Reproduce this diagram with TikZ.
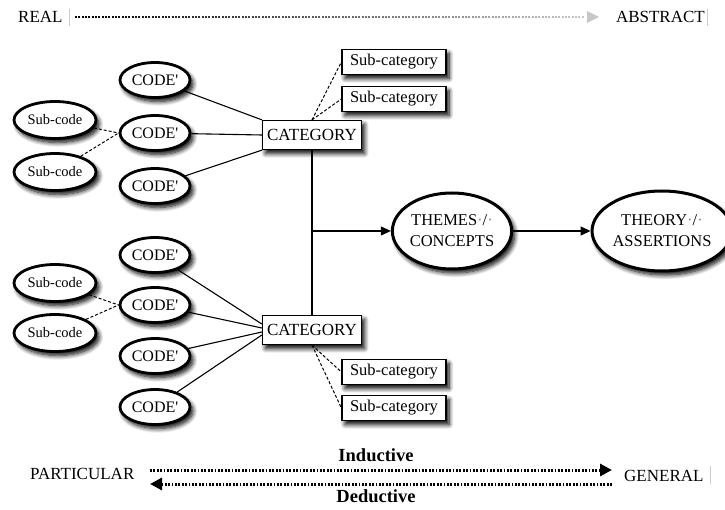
\documentclass[tikz,border=0pt]{standalone}
\usepackage{fontspec}
\setmainfont{Liberation Serif}
\usetikzlibrary{shapes.geometric,shadows,shadows.blur,arrows.meta,calc}

\newcommand{\fs}[2]{\fontsize{#1}{#2}\selectfont}
\newcommand{\fmark}{\textcolor{black!45}{·}}
\newcommand{\codetext}{CODE\textquotesingle}

\tikzset{
  softshadow/.style={blur shadow={shadow blur steps=8,shadow blur radius=4.5pt,shadow xshift=3pt,shadow yshift=-4pt,shadow opacity=100}},
  codebox/.style={ellipse,draw,line width=2.8pt,fill=white,minimum width=70pt,minimum height=35pt,inner sep=0pt,softshadow,font=\fs{16}{19}},
  subcodebox/.style={ellipse,draw,line width=2.8pt,fill=white,minimum width=82pt,minimum height=37pt,inner sep=0pt,softshadow,font=\fs{14.5}{17}},
  catbox/.style={rectangle,draw,line width=1.3pt,fill=white,minimum width=99pt,minimum height=29pt,inner sep=0pt,softshadow,font=\fs{17}{20}},
  subcatbox/.style={rectangle,draw,line width=1.3pt,fill=white,minimum width=104pt,minimum height=25pt,inner sep=0pt,softshadow,font=\fs{16.5}{19}},
  bigoval/.style={ellipse,draw,line width=3pt,fill=white,inner sep=0pt,softshadow,font=\fs{16.5}{21},align=center},
  solidlink/.style={line width=1.1pt},
  dashlink/.style={line width=1pt,dash pattern=on 3pt off 2pt},
  dotarrow/.style={line width=3pt,dash pattern=on 1.8pt off 1.6pt,-{Triangle[length=12pt,width=12pt]}},
  flowarrow/.style={line width=1.1pt,-{Triangle[length=10pt,width=9pt]}},
  plain/.style={inner sep=0pt,font=\fs{17}{20}},
  cursor/.style={line width=0.8pt,black!20}
}

\begin{document}
\begin{tikzpicture}[x=1pt,y=-1pt]
\useasboundingbox (0,0) rectangle (725,510);

% --- REAL to ABSTRACT scale ---
\node[plain,anchor=west] (real) at (18,17) {REAL};
\node[plain,anchor=east] (abstract) at (705,17) {ABSTRACT};
\draw[cursor] (69,9) -- (69,26);
\draw[cursor] (707,9) -- (707,26);
\foreach \i in {0,...,50}{
  \pgfmathsetmacro{\shade}{100-\i*1.55}
  \draw[black!\shade,line width=2.8pt,dash pattern=on 1.8pt off 1.6pt]
    (75+\i*10,17) -- (85+\i*10,17);
}
\fill[black!22] (587,11) -- (599,17) -- (587,23) -- cycle;

% --- upper branch ---
\node[catbox] (cat1) at (312,135) {CATEGORY};
\node[subcatbox] (sub1) at (394,62) {Sub-category};
\node[subcatbox] (sub2) at (394,99) {Sub-category};
\node[codebox] (c1) at (155,80) {\codetext};
\node[codebox] (c2) at (155,133) {\codetext};
\node[codebox] (c3) at (155,186) {\codetext};
\node[subcodebox] (sc1) at (55,120) {Sub-code};
\node[subcodebox] (sc2) at (55,172) {Sub-code};

\draw[solidlink] (c1) -- (cat1.north west);
\draw[solidlink] (c2) -- (cat1.west);
\draw[solidlink] (c3) -- (cat1.south west);
\draw[dashlink] (sc1) -- (c2.west);
\draw[dashlink] (sc2) -- (c2.west);
\draw[dashlink] (cat1.north) -- (sub1.west);
\draw[dashlink] (cat1.north) -- (sub2.west);

% --- lower branch ---
\node[catbox] (cat2) at (312,330) {CATEGORY};
\node[subcatbox] (sub3) at (394,372) {Sub-category};
\node[subcatbox] (sub4) at (394,408) {Sub-category};
\node[codebox] (c4) at (155,255) {\codetext};
\node[codebox] (c5) at (155,305) {\codetext};
\node[codebox] (c6) at (155,356) {\codetext};
\node[codebox] (c7) at (155,407) {\codetext};
\node[subcodebox] (sc3) at (55,283) {Sub-code};
\node[subcodebox] (sc4) at (55,333) {Sub-code};

\draw[solidlink] (c4) -- ($(cat2.west)+(0,-6)$);
\draw[solidlink] (c5) -- ($(cat2.west)+(0,-2)$);
\draw[solidlink] (c6) -- ($(cat2.west)+(0,2)$);
\draw[solidlink] (c7) -- ($(cat2.west)+(0,5)$);
\draw[dashlink] (sc3) -- (c5.west);
\draw[dashlink] (sc4) -- (c5.west);
\draw[dashlink] (cat2.south) -- (sub3.west);
\draw[dashlink] (cat2.south) -- (sub4.west);

% --- themes and theory ---
\node[bigoval,minimum width=104pt,minimum height=76pt] (themes) at (452,231)
  {THEMES\fmark/\fmark\\CONCEPTS};
\node[bigoval,minimum width=120pt,minimum height=80pt] (theory) at (662,231)
  {THEORY\fmark/\fmark\\ASSERTIONS};
\coordinate (junc) at (cat1.south |- themes.west);
\draw[solidlink] (cat1.south) -- (cat2.north);
\draw[flowarrow] (junc) -- (themes.west);
\draw[flowarrow] (themes.east) -- (theory.west);

% --- PARTICULAR / GENERAL scale ---
\node[plain,anchor=west] (particular) at (30,474) {PARTICULAR};
\node[plain,anchor=west] (general) at (624,476) {GENERAL};
\draw[cursor] (710,466) -- (710,484);
\node[plain,font=\bfseries\fs{18.5}{22}] (induct) at (376,455) {Inductive};
\node[plain,font=\bfseries\fs{18.5}{22}] (deduct) at (376,496) {Deductive};
\coordinate (iL) at (150,470);
\coordinate (iR) at (612,470);
\coordinate (dL) at (150,484);
\coordinate (dR) at (612,484);
\draw[dotarrow] (iL) -- (iR);
\draw[dotarrow] (dR) -- (dL);
\end{tikzpicture}
\end{document}
